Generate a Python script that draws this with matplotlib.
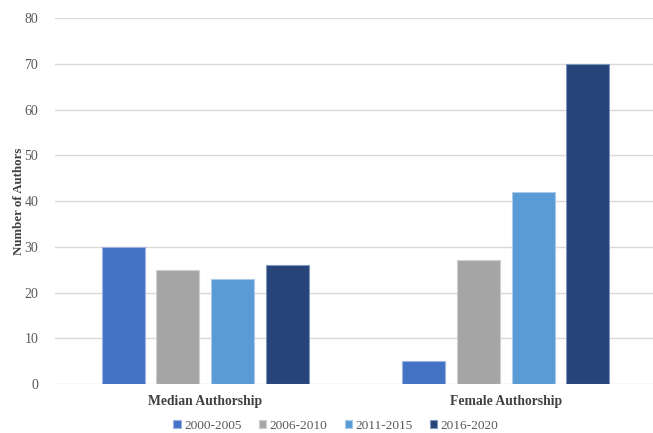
import numpy as np
import matplotlib
matplotlib.use("Agg")
import matplotlib.pyplot as plt

plt.rcParams['font.family'] = ['Liberation Serif', 'DejaVu Serif']

categories = ["Median Authorship", "Female Authorship"]
periods = ["2000-2005", "2006-2010", "2011-2015", "2016-2020"]
values = {
    "2000-2005": [30, 5],
    "2006-2010": [25, 27],
    "2011-2015": [23, 42],
    "2016-2020": [26, 70],
}
colors = ["#4472C4", "#A5A5A5", "#5B9BD5", "#264478"]
edges = ["#9db5e0", "#cfcfcf", "#a9c9ea", "#8197bb"]

fig = plt.figure(figsize=(6.53, 4.33), dpi=100)
ax = fig.add_axes([55 / 653, 1 - 384 / 433, 601 / 653, 366 / 433])

x = np.arange(len(categories))
step = 0.182
width = 0.143
for i, p in enumerate(periods):
    ax.bar(x + (i - 1.5) * step, values[p], width=width, color=colors[i],
           edgecolor=edges[i], linewidth=0.8, label=p, zorder=3)

ax.set_xlim(-0.5, 1.5)
ax.set_ylim(0, 80)
ax.set_yticks(range(0, 81, 10))
ax.yaxis.grid(True, color="#d9d9d9", linewidth=1, zorder=0)
for s in ax.spines.values():
    s.set_visible(False)
ax.tick_params(axis='both', length=0, colors="#595959")
ax.tick_params(axis='y', pad=12, labelsize=10)
ax.tick_params(axis='x', pad=8)
ax.set_xticks(x)
ax.set_xticklabels(categories, fontweight='bold', fontsize=9.8, color="#404040")
ax.set_ylabel("Number of Authors", fontweight='bold', fontsize=9.3, color="#404040")
ax.yaxis.set_label_coords(-0.05, 0.5)

ax.legend(loc='center', bbox_to_anchor=(336 / 653, 1 - 426 / 433), bbox_transform=fig.transFigure,
          ncol=4, frameon=False, fontsize=9.6, handlelength=0.55, handleheight=0.55,
          handletextpad=0.25, columnspacing=1.3, labelcolor="#595959", borderpad=0.2)

fig.savefig("out.png", dpi=100)
